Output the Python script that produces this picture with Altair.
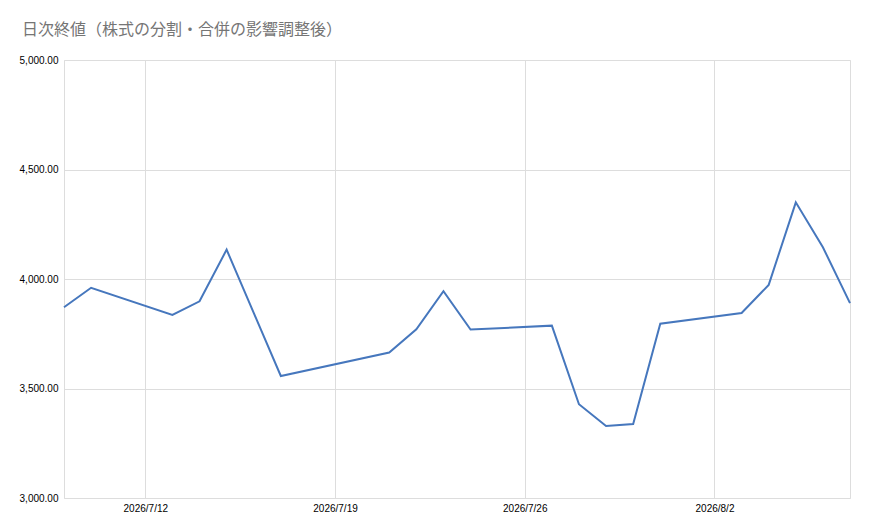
import altair as alt
import pandas as pd

dates = ["2026-07-09", "2026-07-10", "2026-07-13", "2026-07-14", "2026-07-15",
         "2026-07-16", "2026-07-17", "2026-07-21", "2026-07-22", "2026-07-23",
         "2026-07-24", "2026-07-27", "2026-07-28", "2026-07-29", "2026-07-30",
         "2026-07-31", "2026-08-03", "2026-08-04", "2026-08-05", "2026-08-06",
         "2026-08-07"]
closes = [3871, 3960, 3836, 3898, 4134,
          3845, 3557, 3664, 3770, 3944,
          3769, 3787, 3428, 3329, 3338,
          3796, 3845, 3973, 4350, 4145,
          3890]
tick_dates = [(2026, 7, 12), (2026, 7, 19), (2026, 7, 26), (2026, 8, 2)]
y_ticks = [3000, 3500, 4000, 4500, 5000]
title_text = "日次終値（株式の分割・合併の影響調整後）"

df = pd.DataFrame({"date": dates, "close": closes})

x_values = [alt.DateTime(year=y, month=m, date=d, utc=True) for (y, m, d) in tick_dates]

chart = alt.Chart(df).mark_line(color="#4677bd", strokeWidth=2).encode(
    x=alt.X(
        "date:T",
        scale=alt.Scale(
            type="utc",
            domain=[alt.DateTime(year=2026, month=7, date=9, utc=True),
                    alt.DateTime(year=2026, month=8, date=7, utc=True)],
            nice=False,
        ),
        axis=alt.Axis(
            values=x_values,
            labelExpr="utcFormat(datum.value, '%Y/%-m/%-d')",
            title=None,
            domain=False,
            ticks=False,
            labelPadding=5,
            grid=True,
        ),
    ),
    y=alt.Y(
        "close:Q",
        scale=alt.Scale(domain=[3000, 5000], nice=False, zero=False),
        axis=alt.Axis(
            values=y_ticks,
            format=",.2f",
            title=None,
            domain=False,
            ticks=False,
            labelPadding=6,
            grid=True,
        ),
    ),
).properties(
    width=786,
    height=438,
    title=alt.TitleParams(
        text=title_text,
        anchor="start",
        frame="group",
        dx=-42,
        offset=17,
        font="Noto Sans CJK JP",
        fontSize=16,
        fontWeight="normal",
        color="#757575",
    ),
    autosize=alt.AutoSizeParams(type="none"),
    padding={"left": 56, "top": 52, "right": 12, "bottom": 25},
).configure_view(
    stroke=None,
).configure_axis(
    gridColor="#d0d0d0",
    gridWidth=1,
    labelFont="Liberation Sans",
    labelFontSize=10.5,
    labelColor="#222222",
).configure(background="white")

chart.save("out.html", embed_options={"renderer": "svg", "actions": False})
